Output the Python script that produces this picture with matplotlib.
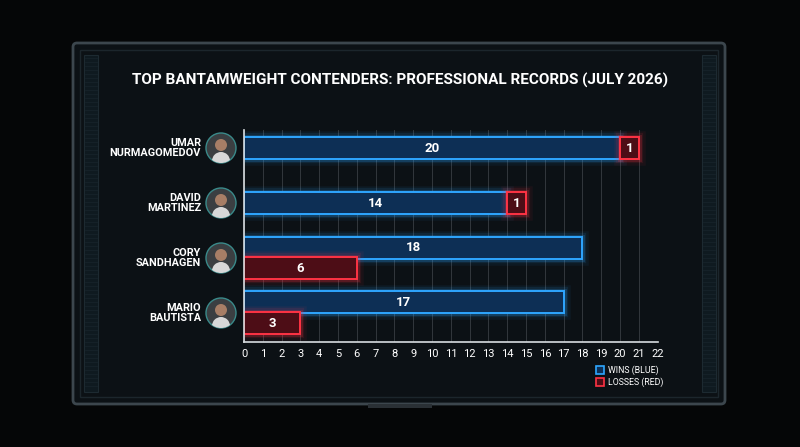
import matplotlib
matplotlib.use("Agg")
import matplotlib.pyplot as plt
from matplotlib.patches import Rectangle, Circle, FancyBboxPatch

fighters = ["UMAR\nNURMAGOMEDOV", "DAVID\nMARTINEZ", "CORY\nSANDHAGEN", "MARIO\nBAUTISTA"]
wins = [20, 14, 18, 17]
losses = [1, 1, 6, 3]
stacked = [True, True, False, False]  # losses drawn after wins on the same row

BLUE_EDGE = "#2ea6ff"
BLUE_FACE = "#0d2f55"
RED_EDGE = "#ff3344"
RED_FACE = "#4d0d16"

plt.rcParams["font.family"] = ["Roboto", "DejaVu Sans"]
fig = plt.figure(figsize=(8, 4.47), dpi=100)
fig.patch.set_facecolor("#050607")

# TV frame
bg = fig.add_axes([0, 0, 1, 1])
bg.set_xlim(0, 800)
bg.set_ylim(447, 0)
bg.axis("off")
bg.add_patch(FancyBboxPatch((73, 43), 652, 361, boxstyle="round,pad=0,rounding_size=4",
                            fc="#0c1115", ec="#3c464d", lw=2))
bg.add_patch(Rectangle((80, 50), 638, 347, fc="none", ec="#1c262c", lw=1))
for gx in (84, 702):
    bg.add_patch(Rectangle((gx, 55), 14, 337, fc="#0f1a20", ec="#1d2a31", lw=0.8))
    for gy in range(58, 390, 4):
        bg.plot([gx + 1, gx + 13], [gy, gy], color="#18252c", lw=0.5)
bg.add_patch(Rectangle((368, 404), 64, 4, fc="#2a3035", ec="none"))
bg.text(400, 80, "TOP BANTAMWEIGHT CONTENDERS: PROFESSIONAL RECORDS (JULY 2026)",
        color="white", fontsize=11, fontweight="bold", ha="center", va="center")

ax = fig.add_axes([0.305, 0.235, 0.517, 0.474])
ax.set_facecolor("none")
ax.set_xlim(0, 22)
ax.set_ylim(3.53, -0.33)
ax.set_xticks(range(23))
ax.tick_params(axis="x", colors="white", labelsize=8, length=0, pad=5)
ax.set_yticks([])
for s in ("top", "right"):
    ax.spines[s].set_visible(False)
for s in ("left", "bottom"):
    ax.spines[s].set_color("#d8dde0")
    ax.spines[s].set_linewidth(1.2)
ax.grid(axis="x", color="#8a9298", alpha=0.3, lw=0.7)
ax.set_axisbelow(True)


def glow_bar(y, left, width, h, face, edge, label):
    for lw, a in ((9, 0.06), (6, 0.1), (3.5, 0.2)):
        ax.barh(y, width, left=left, height=h, color="none", edgecolor=edge, lw=lw, alpha=a)
    ax.barh(y, width, left=left, height=h, color=face, edgecolor=edge, lw=1.4)
    ax.text(left + width / 2, y, str(label), color="white", fontsize=9.5,
            fontweight="bold", ha="center", va="center")


h = 0.4
for i, name in enumerate(fighters):
    if stacked[i]:
        glow_bar(i, 0, wins[i], h, BLUE_FACE, BLUE_EDGE, wins[i])
        glow_bar(i, wins[i], losses[i], h, RED_FACE, RED_EDGE, losses[i])
    else:
        glow_bar(i - 0.19, 0, wins[i], h, BLUE_FACE, BLUE_EDGE, wins[i])
        glow_bar(i + 0.19, 0, losses[i], h, RED_FACE, RED_EDGE, losses[i])
    yc = 148 + i * 55
    bg.text(201, yc, name, color="white", fontsize=7.8, fontweight="bold",
            ha="right", va="center", linespacing=1.1)
    ring = Circle((221, yc), 15, fc="#3b3f42", ec="#3a8a8a", lw=1)
    bg.add_patch(ring)
    head = Circle((221, yc - 3), 6, fc="#a77e66", ec="none")
    body = Circle((221, yc + 13), 9, fc="#d8d8d8", ec="none")
    for p in (head, body):
        bg.add_patch(p)
        p.set_clip_path(ring)

# legend
for yy, fc, ec, txt in ((370, BLUE_FACE, BLUE_EDGE, "WINS (BLUE)"),
                        (382, RED_FACE, RED_EDGE, "LOSSES (RED)")):
    bg.add_patch(Rectangle((596, yy - 4), 8, 8, fc=fc, ec=ec, lw=1.2))
    bg.text(608, yy, txt, color="white", fontsize=6.3, ha="left", va="center")

fig.savefig("out.png", dpi=100, facecolor=fig.get_facecolor())
